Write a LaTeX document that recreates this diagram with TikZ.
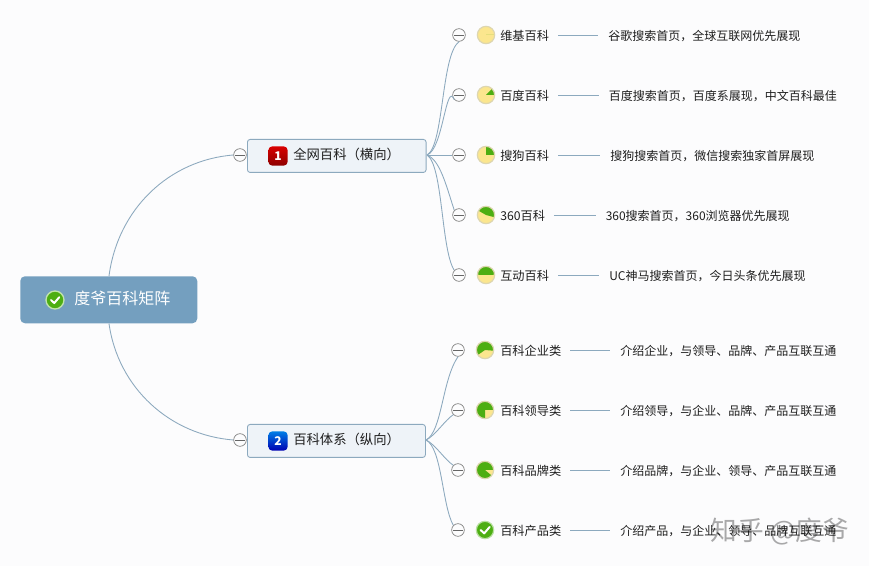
\documentclass[tikz,border=0pt]{standalone}
\usepackage{fontspec}
\setmainfont{Noto Sans CJK SC}
\usetikzlibrary{calc}
\definecolor{bgc}{HTML}{FCFCFD}
\definecolor{linec}{HTML}{8CA9BE}
\definecolor{rootc}{HTML}{749FBF}
\definecolor{boxf}{HTML}{EEF3F8}
\definecolor{pieg}{HTML}{4DAE12}
\definecolor{piey}{HTML}{FBE68E}
\definecolor{ringc}{HTML}{DDD6B0}
\definecolor{txtc}{HTML}{1E1E1E}
\tikzset{
  x=0.75pt,y=-0.75pt,
  conn/.style={draw=linec,line width=0.65pt},
  rootbox/.style={draw=none,fill=rootc,rounded corners=3.5pt,minimum width=132.75pt,minimum height=35.25pt,inner sep=0pt},
  topicbox/.style={draw=linec,line width=0.65pt,fill=boxf,rounded corners=2pt,minimum height=24.75pt,inner sep=0pt},
  collapse/.style={circle,draw=black!50,line width=0.5pt,fill=bgc,minimum size=9.5pt,inner sep=0pt,
    path picture={\draw[black!60,line width=0.5pt] ($(path picture bounding box.center)+(-3.6pt,0)$) -- ($(path picture bounding box.center)+(3.6pt,0)$);}},
  leaflabel/.style={anchor=west,inner sep=0pt,font=\fontsize{9.15}{11}\selectfont,text=txtc},
  leaftext/.style={anchor=west,inner sep=0pt,font=\fontsize{9}{11}\selectfont,text=txtc},
  pie/.style 2 args={circle,draw=ringc,line width=0.9pt,fill=piey,minimum size=13pt,inner sep=0pt,
    path picture={\fill[pieg] (path picture bounding box.center) -- ++(#1:8pt) arc[start angle=#1,end angle=#2,radius=8pt] -- cycle;}},
  donepie/.style={circle,draw=pieg!40,line width=0.9pt,fill=pieg,minimum size=13pt,inner sep=0pt},
}
\newcommand{\chk}[2]{\draw[white,line width=1.5pt,line cap=round,line join=round] ($(#1)+(-#2*0.55,0)$) -- ($(#1)+(-#2*0.1,-#2*0.42)$) -- ($(#1)+(#2*0.58,#2*0.38)$);}
\newcommand{\leafrow}[8]{%
  % id, y, collapse x, icon style, label, label x, text, text x
  \node[collapse] (c#1) at (#3,#2) {};
  \node[#4] (i#1) at (#3+27,#2) {};
  \node[leaflabel] (l#1) at (#6,#2+0.6) {#5};
  \node[leaftext] (t#1) at (#8,#2+0.6) {#7};
  \draw[conn,shorten <=6.5pt,shorten >=7.5pt] (c#1.center -| l#1.east) -- (c#1.center -| t#1.west);
}
\begin{document}
\begin{tikzpicture}
\fill[bgc] (0,0) rectangle (869,566);
\useasboundingbox (0,0) rectangle (869,566);

\coordinate (hub1) at (427,155);
\coordinate (hub2) at (426,440);

\leafrow{a}{35}{459}{pie={0}{0}}{维基百科}{500}{谷歌搜索首页，全球互联网优先展现}{608}
\leafrow{b}{95}{459}{pie={0}{45}}{百度百科}{500}{百度搜索首页，百度系展现，中文百科最佳}{608.5}
\leafrow{c}{155}{459}{pie={0}{90}}{搜狗百科}{500}{搜狗搜索首页，微信搜索独家首屏展现}{610}
\leafrow{d}{215}{459}{pie={-15}{150}}{360百科}{500}{360搜索首页，360浏览器优先展现}{605.5}
\leafrow{e}{275}{459}{pie={2}{178}}{互动百科}{500}{UC神马搜索首页，今日头条优先展现}{609}
\leafrow{f}{350}{458}{pie={-5}{215}}{百科企业类}{500}{介绍企业，与领导、品牌、产品互联互通}{620}
\leafrow{g}{410}{458}{pie={0}{270}}{百科领导类}{500}{介绍领导，与企业、品牌、产品互联互通}{620}
\leafrow{h}{470}{458}{pie={0}{320}}{百科品牌类}{500}{介绍品牌，与企业、领导、产品互联互通}{620}
\leafrow{i}{530}{458}{donepie}{百科产品类}{500}{介绍产品，与企业、领导、品牌互联互通}{620}
\chk{ii}{6pt}

\node[rootbox,anchor=north west] (root) at (20,276) {};
\node[circle,draw=white!65!pieg,line width=1pt,fill=pieg,minimum size=13.5pt,inner sep=0pt] (rooticon) at (55,300) {};
\chk{rooticon}{5.5pt}
\node[anchor=west,inner sep=0pt,text=white,font=\fontsize{12}{14}\selectfont] (roottext) at (74,298) {度爷百科矩阵};

\node[topicbox,minimum width=134pt,anchor=north west] (t1) at (247,139) {};
\node[topicbox,minimum width=133.5pt,anchor=north west] (t2) at (247,424) {};
\node[collapse] (ct1) at (240,155) {};
\node[collapse] (ct2) at (240,440) {};

\node[rounded corners=3pt,top color=red!85!black,bottom color=red!55!black,minimum size=14.5pt,inner sep=0pt,text=white,font=\fontsize{9}{9}\selectfont\itshape\bfseries] (n1) at (278,156) {1};
\node[rounded corners=3pt,top color=blue!45!cyan!90!black,bottom color=blue!70!black,minimum size=14.5pt,inner sep=0pt,text=white,font=\fontsize{9}{9}\selectfont\bfseries] (n2) at (278,441) {2};
\node[anchor=west,inner sep=0pt,text=txtc,font=\fontsize{10}{12}\selectfont] (tt1) at (293,154.5) {全网百科（横向）};
\node[anchor=west,inner sep=0pt,text=txtc,font=\fontsize{10}{12}\selectfont] (tt2) at (293,439.5) {百科体系（纵向）};

\draw[conn] ($(root.north west)+(89,0)$) .. controls (118,208) and (170,160) .. (ct1.west);
\draw[conn] ($(root.south west)+(89,0)$) .. controls (118,388) and (170,435) .. (ct2.west);

\draw[conn] (hub1) .. controls (443,150) and (446,80) .. (cb.south west);
\draw[conn] (hub1) .. controls (444,146) and (441,55) .. (ca.south);
\draw[conn] (hub1) -- (cc.west);
\draw[conn] (hub1) .. controls (440,160) and (446,185) .. (cd.north west);
\draw[conn] (hub1) .. controls (443,165) and (441,250) .. (ce.north west);

\draw[conn] (hub2) .. controls (442,432) and (442,380) .. (cf.south);
\draw[conn] (hub2) .. controls (435,436) and (445,420) .. (cg.south west);
\draw[conn] (hub2) .. controls (435,444) and (445,460) .. (ch.north west);
\draw[conn] (hub2) .. controls (442,448) and (442,505) .. (ci.north west);

\node[anchor=east,inner sep=0pt,text=black,opacity=0.33,font=\fontsize{20}{24}\selectfont] (wm) at (849,532) {知乎 @度爷};
\end{tikzpicture}
\end{document}
